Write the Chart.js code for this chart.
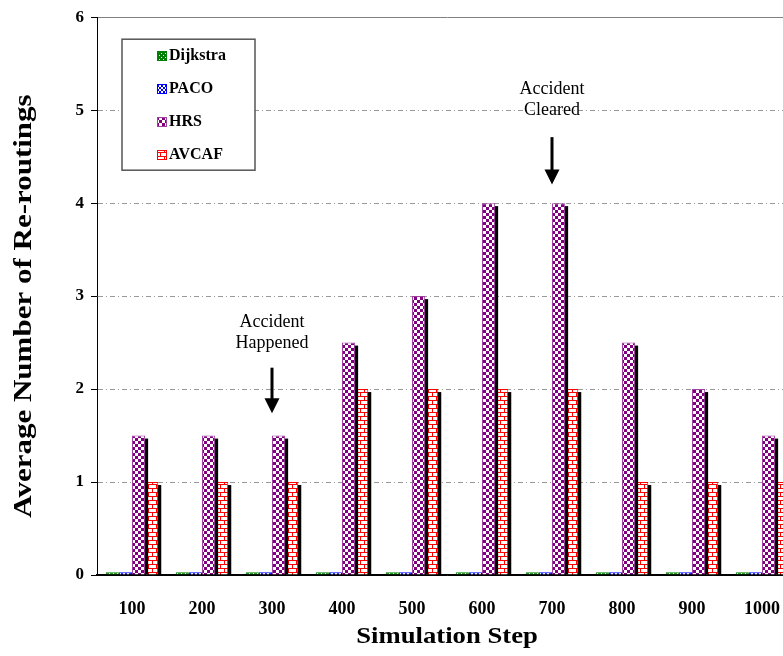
<!DOCTYPE html>
<html>
<head>
<meta charset="utf-8">
<script src="https://cdn.jsdelivr.net/npm/chart.js@4.4.0/dist/chart.umd.min.js"></script>
<style>
  html, body { margin: 0; padding: 0; background: #fff; overflow: hidden; }
  #wrap { width: 800px; height: 656px; }
</style>
</head>
<body>
<div id="wrap"><canvas id="chart"></canvas></div>
<script>
// values
const steps = ['100', '200', '300', '400', '500', '600', '700', '800', '900', '1000'];
const dijkstra = [0.03, 0.03, 0.03, 0.03, 0.03, 0.03, 0.03, 0.03, 0.03, 0.03];
const paco = [0.03, 0.03, 0.03, 0.03, 0.03, 0.03, 0.03, 0.03, 0.03, 0.03];
const hrs = [1.5, 1.5, 1.5, 2.5, 3, 4, 4, 2.5, 2, 1.5];
const avcaf = [1, 1, 1, 2, 2, 2, 2, 1, 1, 1];
const yTicks = [0, 1, 2, 3, 4, 5, 6];

const xTitle = 'Simulation Step';
const yTitle = 'Average Number of Re-routings';

// arrows with their labels, in data units
const notes = [
    { step: '300', lines: ['Accident', 'Happened'], textAt: 2.72, arrowFrom: 2.23, arrowTo: 1.74 },
    { step: '700', lines: ['Accident', 'Cleared'], textAt: 5.22, arrowFrom: 4.71, arrowTo: 4.2 }
];

// small tiled fills like the old office chart hatches
function makePattern(w, h, draw) {
    const c = document.createElement('canvas');
    c.width = w;
    c.height = h;
    draw(c.getContext('2d'));
    return document.createElement('canvas').getContext('2d').createPattern(c, 'repeat');
}

const greenFill = makePattern(4, 4, g => {
    g.fillStyle = '#008000';
    g.fillRect(0, 0, 4, 4);
    g.fillStyle = '#fff';
    g.fillRect(1, 1, 1, 1);
    g.fillRect(3, 3, 1, 1);
});

const blueFill = makePattern(4, 4, g => {
    g.fillStyle = '#fff';
    g.fillRect(0, 0, 4, 4);
    g.fillStyle = '#0000ff';
    for (let i = 0; i < 4; i++) {
        g.fillRect(i, i, 1, 1);
        g.fillRect(3 - i, i, 1, 1);
    }
});

const checkFill = makePattern(6, 6, g => {
    g.fillStyle = '#800080';
    g.fillRect(0, 0, 6, 6);
    g.fillStyle = '#fff';
    g.fillRect(0, 0, 3, 3);
    g.fillRect(3, 3, 3, 3);
});

const brickFill = makePattern(8, 8, g => {
    g.fillStyle = '#fff';
    g.fillRect(0, 0, 8, 8);
    g.fillStyle = '#ff0000';
    g.fillRect(0, 0, 8, 1);
    g.fillRect(0, 4, 8, 1);
    g.fillRect(0, 1, 1, 3);
    g.fillRect(4, 5, 1, 3);
});

const serif = '"Liberation Serif", "Times New Roman", serif';

// black drop shadow behind each bar, taken from the bar elements themselves
const barShadow = {
    id: 'barShadow',
    beforeDatasetDraw(chart, args) {
        const ctx = chart.ctx;
        ctx.save();
        ctx.fillStyle = '#000';
        args.meta.data.forEach(bar => {
            const { x, y, base, width } = bar.getProps(['x', 'y', 'base', 'width'], true);
            const h = base - y - 3;
            if (h > 0) ctx.fillRect(x - width / 2 + 3, y + 3, width, h);
        });
        ctx.restore();
    }
};

const legendBox = {
    id: 'legendBox',
    afterDraw(chart) {
        const { ctx, chartArea } = chart;
        const x = chartArea.left + 25;
        const y = chartArea.top + 22;
        ctx.save();
        ctx.fillStyle = '#fff';
        ctx.fillRect(x, y, 133, 131);
        ctx.strokeStyle = '#555';
        ctx.lineWidth = 1.5;
        ctx.strokeRect(x, y, 133, 131);
        ctx.font = 'bold 16px ' + serif;
        ctx.textBaseline = 'middle';
        chart.data.datasets.forEach((ds, i) => {
            const cy = Math.round(y + 17 + i * 33);
            ctx.fillStyle = ds.backgroundColor;
            ctx.fillRect(x + 35, cy - 5, 10, 10);
            ctx.strokeStyle = ds.borderColor;
            ctx.lineWidth = 1;
            ctx.strokeRect(x + 35.5, cy - 4.5, 9, 9);
            ctx.fillStyle = '#000';
            ctx.fillText(ds.label, x + 47, cy);
        });
        ctx.restore();
    }
};

const arrowNotes = {
    id: 'arrowNotes',
    afterDraw(chart) {
        const { ctx, scales } = chart;
        ctx.save();
        ctx.fillStyle = '#000';
        ctx.strokeStyle = '#000';
        ctx.font = '18px ' + serif;
        ctx.textAlign = 'center';
        ctx.textBaseline = 'middle';
        notes.forEach(n => {
            const px = scales.x.getPixelForValue(steps.indexOf(n.step));
            const ty = scales.y.getPixelForValue(n.textAt);
            n.lines.forEach((line, i) => ctx.fillText(line, px, ty + i * 21));
            const y0 = scales.y.getPixelForValue(n.arrowFrom);
            const y1 = scales.y.getPixelForValue(n.arrowTo);
            ctx.lineWidth = 3;
            ctx.beginPath();
            ctx.moveTo(px, y0);
            ctx.lineTo(px, y1 - 12);
            ctx.stroke();
            ctx.beginPath();
            ctx.moveTo(px - 7.5, y1 - 15);
            ctx.lineTo(px + 7.5, y1 - 15);
            ctx.lineTo(px, y1);
            ctx.closePath();
            ctx.fill();
        });
        ctx.restore();
    }
};

// axis titles are a little stretched in the original
const axisTitles = {
    id: 'axisTitles',
    afterDraw(chart) {
        const { ctx, chartArea } = chart;
        ctx.save();
        ctx.fillStyle = '#000';
        ctx.textAlign = 'center';
        ctx.textBaseline = 'middle';

        ctx.save();
        ctx.font = 'bold 23px ' + serif;
        ctx.translate((chartArea.left + chartArea.right) / 2, 637);
        ctx.scale(1.16, 1);
        ctx.fillText(xTitle, 0, 0);
        ctx.restore();

        ctx.save();
        ctx.font = 'bold 25px ' + serif;
        ctx.translate(25, 306);
        ctx.rotate(-Math.PI / 2);
        ctx.scale(1.24, 1);
        ctx.fillText(yTitle, 0, 0);
        ctx.restore();

        ctx.restore();
    }
};

const barOpts = { borderWidth: 1, categoryPercentage: 0.75, barPercentage: 1 };

new Chart(document.getElementById('chart'), {
    type: 'bar',
    data: {
        labels: steps,
        datasets: [
            Object.assign({ label: 'Dijkstra', data: dijkstra, backgroundColor: greenFill, borderColor: '#008000' }, barOpts),
            Object.assign({ label: 'PACO', data: paco, backgroundColor: blueFill, borderColor: '#0000ff' }, barOpts),
            Object.assign({ label: 'HRS', data: hrs, backgroundColor: checkFill, borderColor: '#a040a0' }, barOpts),
            Object.assign({ label: 'AVCAF', data: avcaf, backgroundColor: brickFill, borderColor: '#ff0000' }, barOpts)
        ]
    },
    options: {
        responsive: true,
        maintainAspectRatio: false,
        animation: false,
        layout: { padding: { top: 15, right: 3, left: 0, bottom: 0 } },
        plugins: {
            legend: { display: false },
            tooltip: { enabled: false }
        },
        scales: {
            x: {
                afterFit: scale => { scale.height = 81; },
                grid: { display: false },
                border: { color: '#000', width: 1.5 },
                ticks: {
                    color: '#000',
                    font: { family: serif, size: 18, weight: 'bold' },
                    padding: 16,
                    maxRotation: 0
                }
            },
            y: {
                min: 0,
                max: 6,
                afterFit: scale => { scale.width = 97; },
                afterBuildTicks: scale => { scale.ticks = yTicks.map(v => ({ value: v })); },
                grid: {
                    color: ctx => ctx.tick && (ctx.tick.value === 6 ? '#808080' : ctx.tick.value === 0 ? '#000' : '#9a9a9a'),
                    tickColor: '#000',
                    tickLength: 6
                },
                border: {
                    color: '#000',
                    dash: ctx => (ctx.tick && ctx.tick.value > 0 && ctx.tick.value < 6) ? [5, 3, 1, 3] : []
                },
                ticks: {
                    color: '#000',
                    font: { family: serif, size: 17, weight: 'bold' },
                    padding: 7
                }
            }
        }
    },
    plugins: [barShadow, legendBox, arrowNotes, axisTitles]
});
</script>
</body>
</html>
